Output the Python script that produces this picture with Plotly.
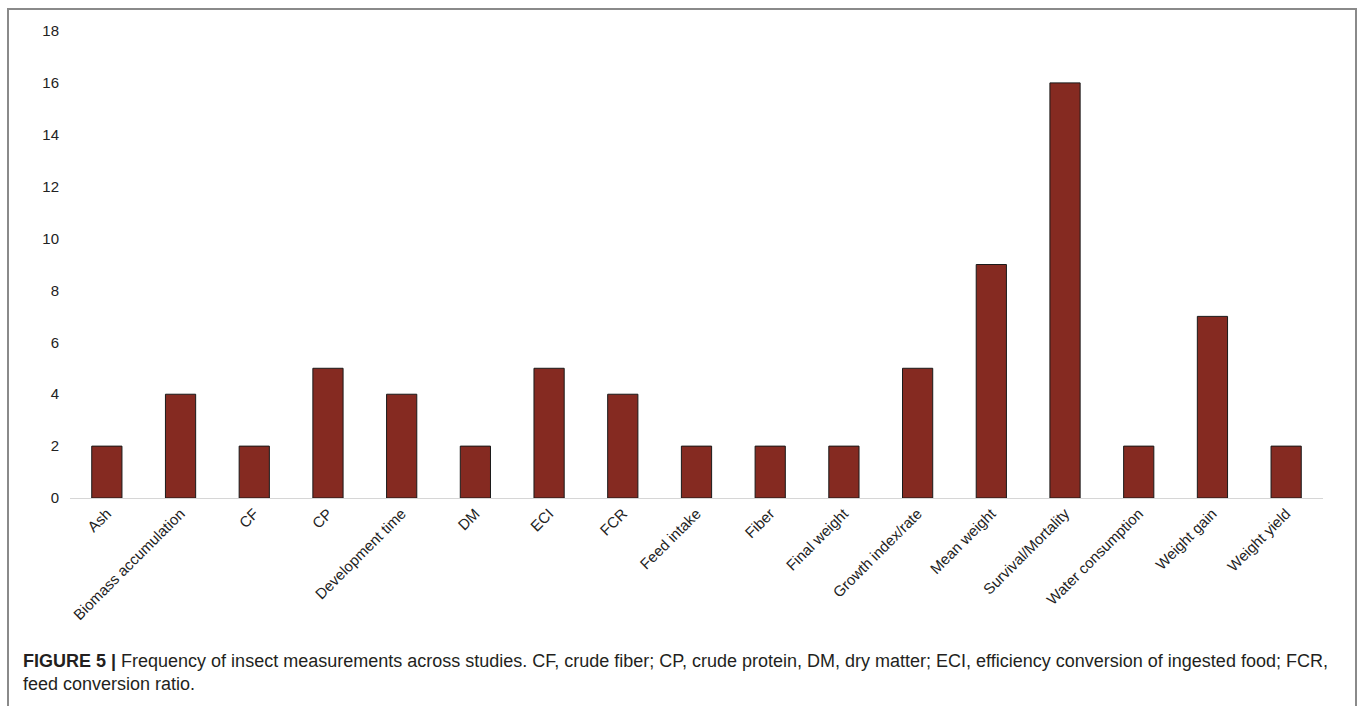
import plotly.graph_objects as go

# Measurement categories and how many studies reported each
categories = [
    "Ash", "Biomass accumulation", "CF", "CP", "Development time", "DM",
    "ECI", "FCR", "Feed intake", "Fiber", "Final weight", "Growth index/rate",
    "Mean weight", "Survival/Mortality", "Water consumption", "Weight gain",
    "Weight yield",
]
frequency = [2, 4, 2, 5, 4, 2, 5, 4, 2, 2, 2, 5, 9, 16, 2, 7, 2]
y_ticks = [0, 2, 4, 6, 8, 10, 12, 14, 16, 18]

W, H = 1363, 706
L, R, T, B = 70, 40, 31, 208
PW, PH = W - L - R, H - T - B


def px_x(x):
    return (x - L) / PW


def px_y(y):
    return (H - B - y) / PH


fig = go.Figure(
    go.Bar(
        x=categories,
        y=frequency,
        marker=dict(color="#852a21", line=dict(color="#1a1a1a", width=1)),
        width=0.41,
        hoverinfo="x+y",
    )
)

fig.update_layout(
    width=W,
    height=H,
    margin=dict(l=L, r=R, t=T, b=B, autoexpand=False),
    paper_bgcolor="white",
    plot_bgcolor="white",
    font=dict(family="Liberation Sans, Arial, sans-serif", size=14, color="#222"),
    showlegend=False,
    bargap=0.59,
    xaxis=dict(
        showline=True,
        linecolor="#d6d6d6",
        linewidth=1,
        showgrid=False,
        tickangle=-45,
        ticks="",
        tickfont=dict(size=15, color="#222"),
        range=[-0.5, len(categories) - 0.5],
    ),
    yaxis=dict(
        range=[0, 18],
        tickvals=y_ticks,
        showgrid=False,
        zeroline=False,
        showline=False,
        ticks="",
        ticklabelstandoff=10,
        tickfont=dict(size=15, color="#222"),
    ),
)

# Frame around figure and caption (open at the bottom edge)
fig.add_shape(
    type="path",
    xref="paper",
    yref="paper",
    path=(
        f"M {px_x(8)} {px_y(730)} L {px_x(8)} {px_y(9)} "
        f"L {px_x(1356)} {px_y(9)} L {px_x(1356)} {px_y(730)}"
    ),
    line=dict(color="#8a8a8a", width=2),
)

caption = (
    "<b>FIGURE 5 |</b> Frequency of insect measurements across studies. "
    "CF, crude fiber; CP, crude protein, DM, dry matter; ECI, efficiency "
    "conversion of ingested food; FCR,<br>feed conversion ratio."
)
fig.add_annotation(
    text=caption,
    xref="paper",
    yref="paper",
    x=px_x(21),
    y=px_y(649),
    xanchor="left",
    yanchor="top",
    align="left",
    showarrow=False,
    font=dict(family="Liberation Sans Narrow, Arial Narrow, sans-serif", size=18, color="#231f20"),
)

fig.write_html("out.html")
